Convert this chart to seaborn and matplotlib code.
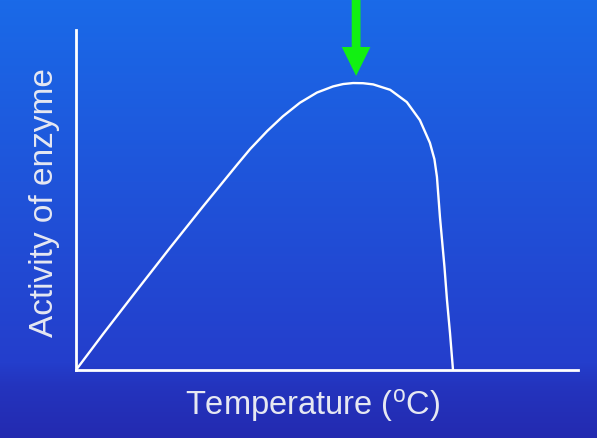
import numpy as np
import pandas as pd
import matplotlib
matplotlib.use("Agg")
import matplotlib.pyplot as plt
from matplotlib.patches import FancyArrow
import seaborn as sns

# Data (arbitrary units: temperature 0-100, activity 0-100)
temperature = [0.0, 5.4, 12.2, 18.7, 25.3, 32.1, 34.7, 38.1, 41.2, 44.6, 48.0, 51.2,
               53.2, 55.2, 57.2, 59.2, 62.6, 65.9, 68.5, 70.5, 71.4, 71.9, 72.5, 73.4,
               73.9, 74.5, 75.1]
activity = [0.0, 10.6, 23.6, 35.9, 48.1, 60.4, 65.0, 70.3, 74.6, 78.6, 81.6, 83.4,
            84.1, 84.4, 84.35, 84.0, 82.4, 78.8, 73.5, 66.8, 62.0, 56.8, 45.0, 30.3,
            20.6, 10.9, 0.0]
peak_temperature = 55.8
x_label = "Temperature ($\\mathregular{^{o}}$C)"
y_label = "Activity of enzyme"

df = pd.DataFrame({"Temperature": temperature, "Activity": activity})

sns.set_theme(style="white")
plt.rcParams["font.family"] = ["Liberation Sans", "DejaVu Sans"]
plt.rcParams["mathtext.fontset"] = "custom"
plt.rcParams["mathtext.rm"] = "Liberation Sans"

W, H = 597, 438
fig = plt.figure(figsize=(W / 100, H / 100), dpi=100)

# gradient background
bg = fig.add_axes([0, 0, 1, 1], zorder=-10)
top = np.array([26, 106, 232]) / 255
mid = np.array([36, 62, 204]) / 255
low = np.array([35, 52, 190]) / 255
bot = np.array([36, 42, 176]) / 255
rows = []
for i in range(H):
    if i < 362:
        c = top + (mid - top) * (i / 362)
    elif i < 385:
        c = mid + (low - mid) * ((i - 362) / 23)
    else:
        c = low + (bot - low) * ((i - 385) / (H - 385))
    rows.append(c)
grad = np.array(rows)[:, None, :]
bg.imshow(grad, aspect="auto", extent=[0, 1, 0, 1])
bg.axis("off")

ax = fig.add_axes([76 / W, (H - 370) / H, (578 - 76) / W, (370 - 30) / H])
ax.set_facecolor("none")
sns.lineplot(data=df, x="Temperature", y="Activity", ax=ax, color="white",
             linewidth=1.7, sort=False)
for ln in ax.get_lines():
    ln.set_solid_joinstyle("round")
ax.set_xlim(0, 100)
ax.set_ylim(0, 100)
ax.set_xticks([])
ax.set_yticks([])
for s in ["top", "right"]:
    ax.spines[s].set_visible(False)
for s in ["left", "bottom"]:
    ax.spines[s].set_color("white")
    ax.spines[s].set_linewidth(2.0)

ax.set_xlabel(x_label, color="#e6e8f2", fontsize=23.5)
ax.set_ylabel(y_label, color="#e6e8f2", fontsize=24)
ax.xaxis.set_label_coords((313 - 76) / 502, -0.05)
ax.yaxis.set_label_coords(-0.032, 0.493)

# green arrow pointing at the peak
arrow = FancyArrow(peak_temperature, 109.5, 0, -(109.5 - 86.5), width=1.75, head_width=5.7,
                   head_length=8.5, length_includes_head=True,
                   color="#12f012", clip_on=False, linewidth=0)
ax.add_patch(arrow)

fig.savefig("out.png", dpi=100)
